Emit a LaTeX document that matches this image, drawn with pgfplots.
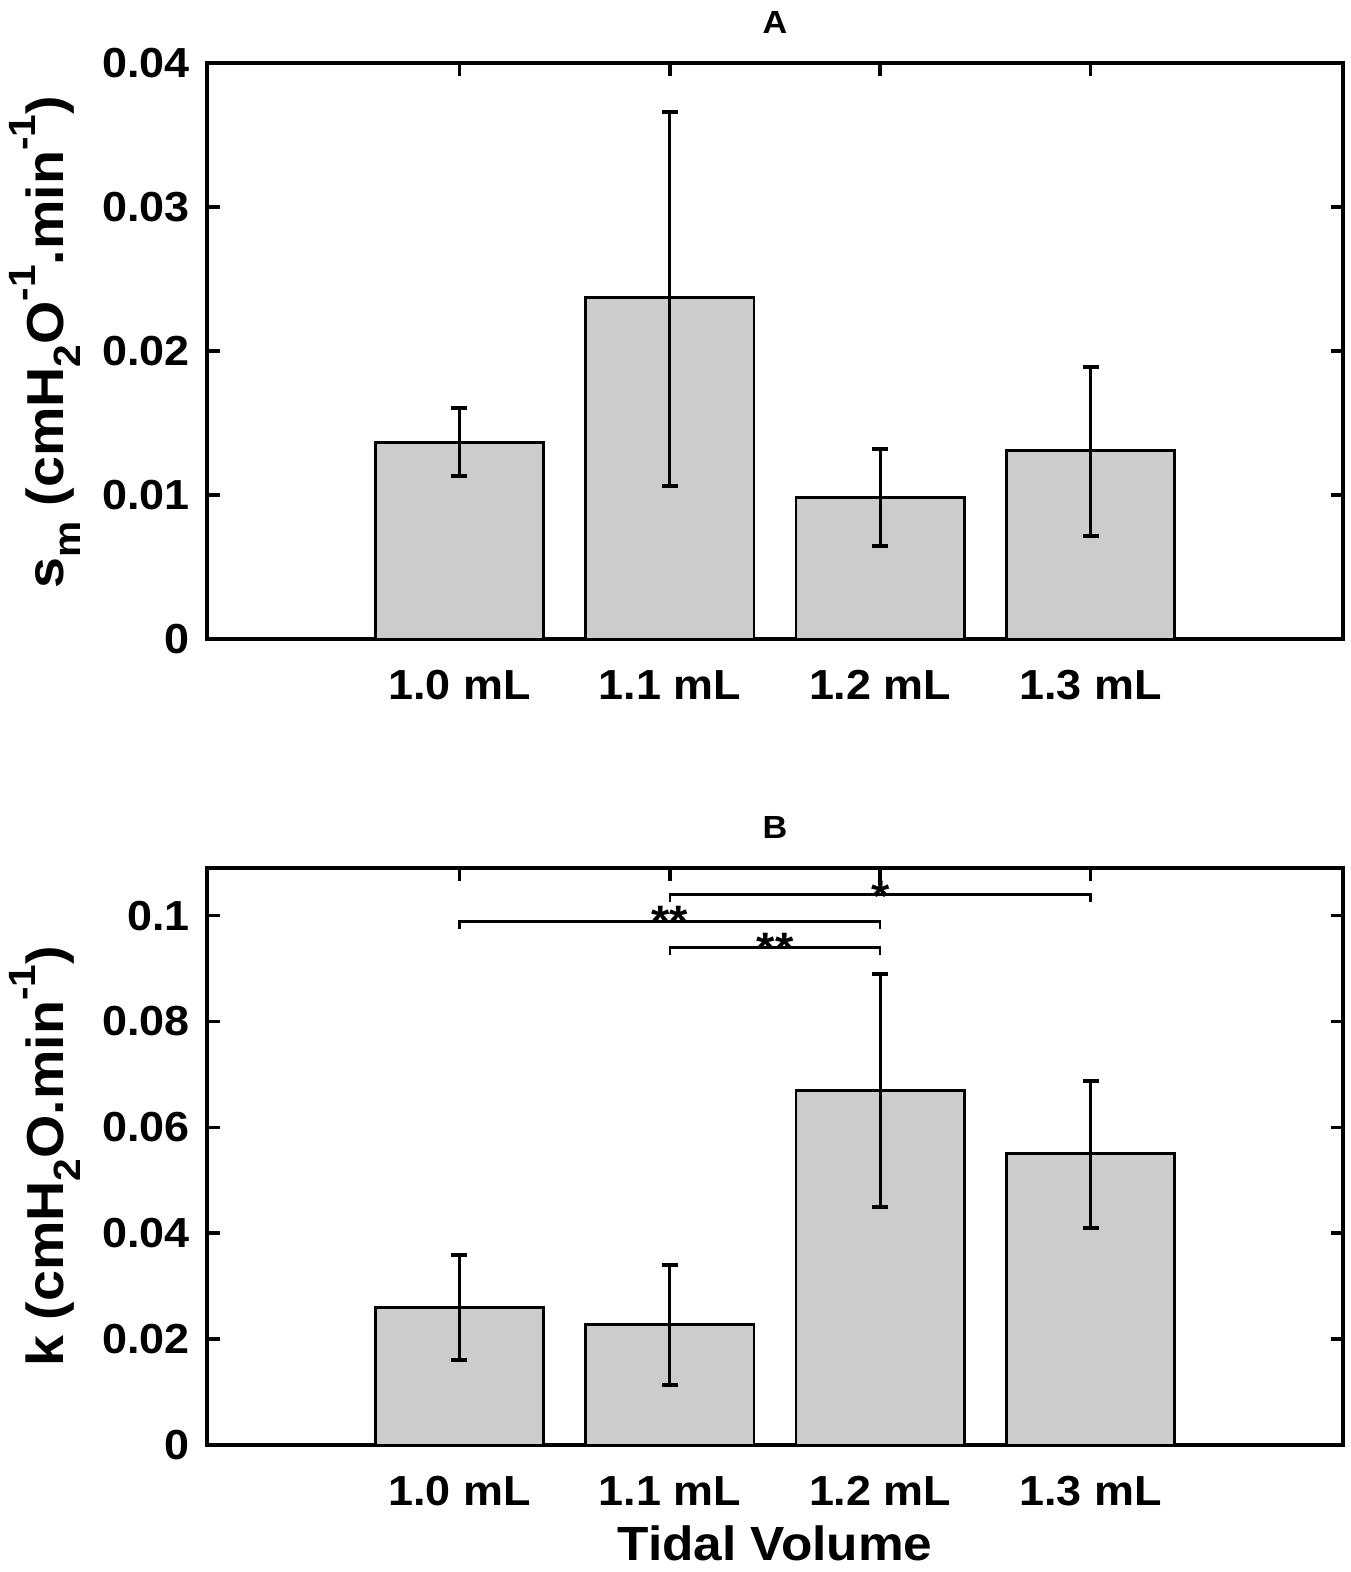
\documentclass[border=0pt]{standalone}
\usepackage{fontspec}
\setmainfont{Liberation Sans}[FakeStretch=1.07]
\usepackage{pgfplots}
\usepackage{pgfplotstable}
\pgfplotsset{compat=1.18}
\definecolor{barg}{RGB}{204,204,204}

\pgfplotstableread{
x y ep em
1 0.01366 0.00236 0.00234
2 0.02373 0.01289 0.01310
3 0.00984 0.00335 0.00336
4 0.01308 0.00579 0.00593
}\dataA

\pgfplotstableread{
x y ep em
1 0.0260 0.0099 0.0099
2 0.0227 0.0113 0.0114
3 0.0670 0.0220 0.0220
4 0.0550 0.0138 0.0140
}\dataB

\newcommand\sub[1]{\raisebox{-0.32em}{\fontsize{19}{19}\selectfont #1}}
\newcommand\sups[1]{\raisebox{0.55em}{\fontsize{19}{19}\selectfont #1}}

\pgfplotsset{
  myax/.style={
    scale only axis, width=568pt,
    anchor=south west,
    xmin=-0.2, xmax=5.2, ymin=0,
    xtick={1,2,3,4},
    xticklabels={1.0 mL,1.1 mL,1.2 mL,1.3 mL},
    scaled ticks=false,
    /pgf/number format/assume math mode=true,
    tick align=inside,
    major tick length=6.25pt,
    axis line style={line width=1.8pt},
    every tick/.style={black, line width=1.8pt},
    ticklabel style={font=\fontsize{21}{24}\selectfont\bfseries},
    xticklabel style={anchor=base, yshift=-30pt},
    yticklabel style={anchor=east, inner sep=0pt, xshift=-8.5pt},
    every axis title/.style={at={(axis description cs:0.5,1)}, anchor=base, yshift=15pt, font=\fontsize{16}{19}\selectfont\bfseries},
    every axis y label/.style={at={(axis description cs:-0.1259,0.5)}, anchor=base, rotate=90, font=\fontsize{26}{30}\selectfont\bfseries},
    every axis x label/.style={at={(axis description cs:0.5,0)}, anchor=base, yshift=-57.5pt, font=\fontsize{24}{28}\selectfont\bfseries},
  },
  mybar/.style={
    ybar, bar width=0.8, fill=barg, draw=black, line width=1.4pt,
    error bars/.cd, y dir=both, y explicit,
    error bar style={line width=1.4pt, black},
    error mark options={rotate=90, line width=2pt, mark size=4pt, black}
  },
  sig/.style={black, line width=1.2pt, no marks},
}

\begin{document}
\begin{tikzpicture}
\useasboundingbox (0,0) rectangle (675pt,-786pt);

\begin{axis}[myax, at={(103.5pt,-319.5pt)}, height=288pt,
  ymax=0.04,
  ytick={0,0.01,0.02,0.03,0.04},
  yticklabels={0,0.01,0.02,0.03,0.04},
  title={A},
  ylabel style={at={(axis description cs:-0.1259,0.515)}},
  ylabel={s\sub{m} (cmH\sub{2}O\sups{-1}.min\sups{-1})},
]
\addplot[mybar] table[x=x, y=y, y error plus=ep, y error minus=em] {\dataA};
\end{axis}

\begin{axis}[myax, at={(103.5pt,-722.5pt)}, height=288.5pt,
  ymax=0.109,
  ytick={0,0.02,0.04,0.06,0.08,0.1},
  yticklabels={0,0.02,0.04,0.06,0.08,0.1},
  title={B},
  ylabel={k (cmH\sub{2}O.min\sups{-1})},
  xlabel={Tidal Volume},
]
\addplot[mybar] table[x=x, y=y, y error plus=ep, y error minus=em] {\dataB};
\addplot[sig] coordinates {(2,0.1025) (2,0.1040) (4,0.1040) (4,0.1025)};
\addplot[sig] coordinates {(1,0.0974) (1,0.0989) (3,0.0989) (3,0.0974)};
\addplot[sig] coordinates {(2,0.0925) (2,0.0940) (3,0.0940) (3,0.0925)};
\node[font=\fontsize{22}{22}\selectfont\bfseries, anchor=base, inner sep=0pt] at (axis cs:3,0.1008) {*};
\node[font=\fontsize{22}{22}\selectfont\bfseries, anchor=base, inner sep=0pt] at (axis cs:2,0.0960) {**};
\node[font=\fontsize{22}{22}\selectfont\bfseries, anchor=base, inner sep=0pt] at (axis cs:2.5,0.0909) {**};
\end{axis}
\end{tikzpicture}
\end{document}
